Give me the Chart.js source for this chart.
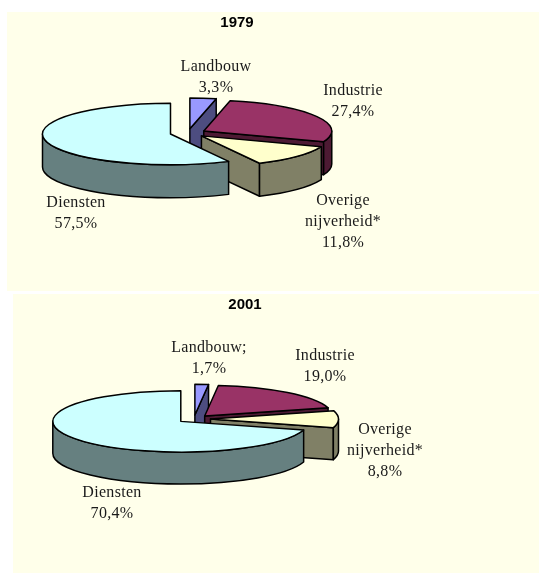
<!DOCTYPE html>
<html>
<head>
<meta charset="utf-8">
<script src="https://cdn.jsdelivr.net/npm/chart.js@4"></script>
<style>
  html, body { margin: 0; padding: 0; background: #fff; }
  body { width: 539px; height: 574px; position: relative; overflow: hidden; }
  .panel { position: absolute; background: #ffffea; }
  canvas { position: absolute; }
</style>
</head>
<body>
<div class="panel" style="left:7px;top:12px;width:532px;height:279px"></div>
<div class="panel" style="left:13px;top:294px;width:526px;height:279px"></div>
<canvas id="chart1979" style="left:7px;top:12px" width="460" height="279"></canvas>
<canvas id="chart2001" style="left:13px;top:294px" width="464" height="279"></canvas>
<script>
// --- DATA ---
const categories1979 = ["Landbouw", "Industrie", "Overige\nnijverheid*", "Diensten"];
const values1979 = [3.3, 27.4, 11.8, 57.5];
const categories2001 = ["Landbouw;", "Industrie", "Overige\nnijverheid*", "Diensten"];
const values2001 = [1.7, 19.0, 8.8, 70.4];

const topColors = ["#9999ff", "#993366", "#ffffcc", "#ccffff"];
const sideColors = ["#4d4d80", "#4d1a33", "#808066", "#668080"];

// --- LAYOUT (canvas pixels) ---
const layout1979 = {
    center: [181, 121], radius: 129, squash: 0.24, explode: 18, depth: 33,
    labels: [[209, 55], [346, 79], [336, 189], [69, 191]]
};
const layout2001 = {
    center: [181, 125], radius: 129.5, squash: 0.24, explode: 16.5, depth: 32,
    labels: [[196, 54], [312, 62], [372, 136], [99, 199]]
};
const labelLineHeight = 21;

// Draws the pie as a tilted, exploded 3D pie using the arc elements the library laid out
const pie3dPlugin = {
    id: "pie3d",
    beforeDatasetsDraw(chart) {
        const ctx = chart.ctx;
        const cfg = chart.options.plugins.pie3d;
        const [cx, cy] = cfg.center;
        const k = cfg.squash;

        chart.getDatasetMeta(0).data.forEach((arc, i) => {
            const s = arc.startAngle, e = arc.endAngle, r = arc.outerRadius;
            const mid = (s + e) / 2;
            const ax = cx + Math.cos(mid) * cfg.explode;
            const ay = cy + Math.sin(mid) * cfg.explode * k;
            const px = a => ax + Math.cos(a) * r;
            const py = a => ay + Math.sin(a) * r * k;

            ctx.save();
            ctx.lineWidth = 1.5;
            ctx.lineJoin = "round";
            ctx.strokeStyle = "#000";
            ctx.fillStyle = sideColors[i];

            // cut faces, only the ones turned towards the viewer
            const faces = [];
            if (Math.cos(s) < -1e-6) faces.push(s);
            if (Math.cos(e) > 1e-6) faces.push(e);
            faces.forEach(a => {
                ctx.beginPath();
                ctx.moveTo(ax, ay);
                ctx.lineTo(px(a), py(a));
                ctx.lineTo(px(a), py(a) + cfg.depth);
                ctx.lineTo(ax, ay + cfg.depth);
                ctx.closePath();
                ctx.fill();
                ctx.stroke();
            });

            // outer rim, front half only
            const from = Math.max(s, 0), to = Math.min(e, Math.PI);
            if (to > from) {
                ctx.beginPath();
                ctx.ellipse(ax, ay, r, r * k, 0, from, to);
                ctx.ellipse(ax, ay + cfg.depth, r, r * k, 0, to, from, true);
                ctx.closePath();
                ctx.fill();
                ctx.stroke();
            }

            // top face: filled by the element itself inside a squashed transform
            ctx.save();
            ctx.translate(ax, ay);
            ctx.scale(1, k);
            ctx.translate(-arc.x, -arc.y);
            arc.draw(ctx);
            ctx.restore();

            ctx.beginPath();
            ctx.moveTo(ax, ay);
            ctx.ellipse(ax, ay, r, r * k, 0, s, e);
            ctx.closePath();
            ctx.stroke();
            ctx.restore();
        });

        // data labels
        const cats = chart.data.labels;
        const vals = chart.data.datasets[0].data;
        ctx.save();
        ctx.font = "16px 'Liberation Serif'";
        ctx.letterSpacing = "0.3px";
        ctx.fillStyle = "#1a1a1a";
        ctx.textAlign = "center";
        ctx.textBaseline = "middle";
        cats.forEach((cat, i) => {
            const lines = cat.split("\n").concat(vals[i].toFixed(1).replace(".", ",") + "%");
            lines.forEach((line, n) => {
                ctx.fillText(line, cfg.labels[i][0], cfg.labels[i][1] + n * labelLineHeight);
            });
        });
        ctx.restore();

        return false; // arcs are already painted
    }
};

function makePie(id, title, categories, values, pieLayout) {
    return new Chart(document.getElementById(id).getContext("2d"), {
        type: "pie",
        data: {
            labels: categories,
            datasets: [{
                data: values,
                backgroundColor: topColors,
                borderWidth: 0
            }]
        },
        options: {
            responsive: false,
            animation: false,
            events: [],
            plugins: {
                legend: { display: false },
                tooltip: { enabled: false },
                title: {
                    display: true,
                    text: title,
                    color: "#000",
                    padding: { top: 2, bottom: 3 },
                    font: { family: "'Liberation Sans'", size: 15, weight: "bold" }
                },
                pie3d: pieLayout
            }
        },
        plugins: [pie3dPlugin]
    });
}

makePie("chart1979", "1979", categories1979, values1979, layout1979);
makePie("chart2001", "2001", categories2001, values2001, layout2001);
</script>
</body>
</html>
